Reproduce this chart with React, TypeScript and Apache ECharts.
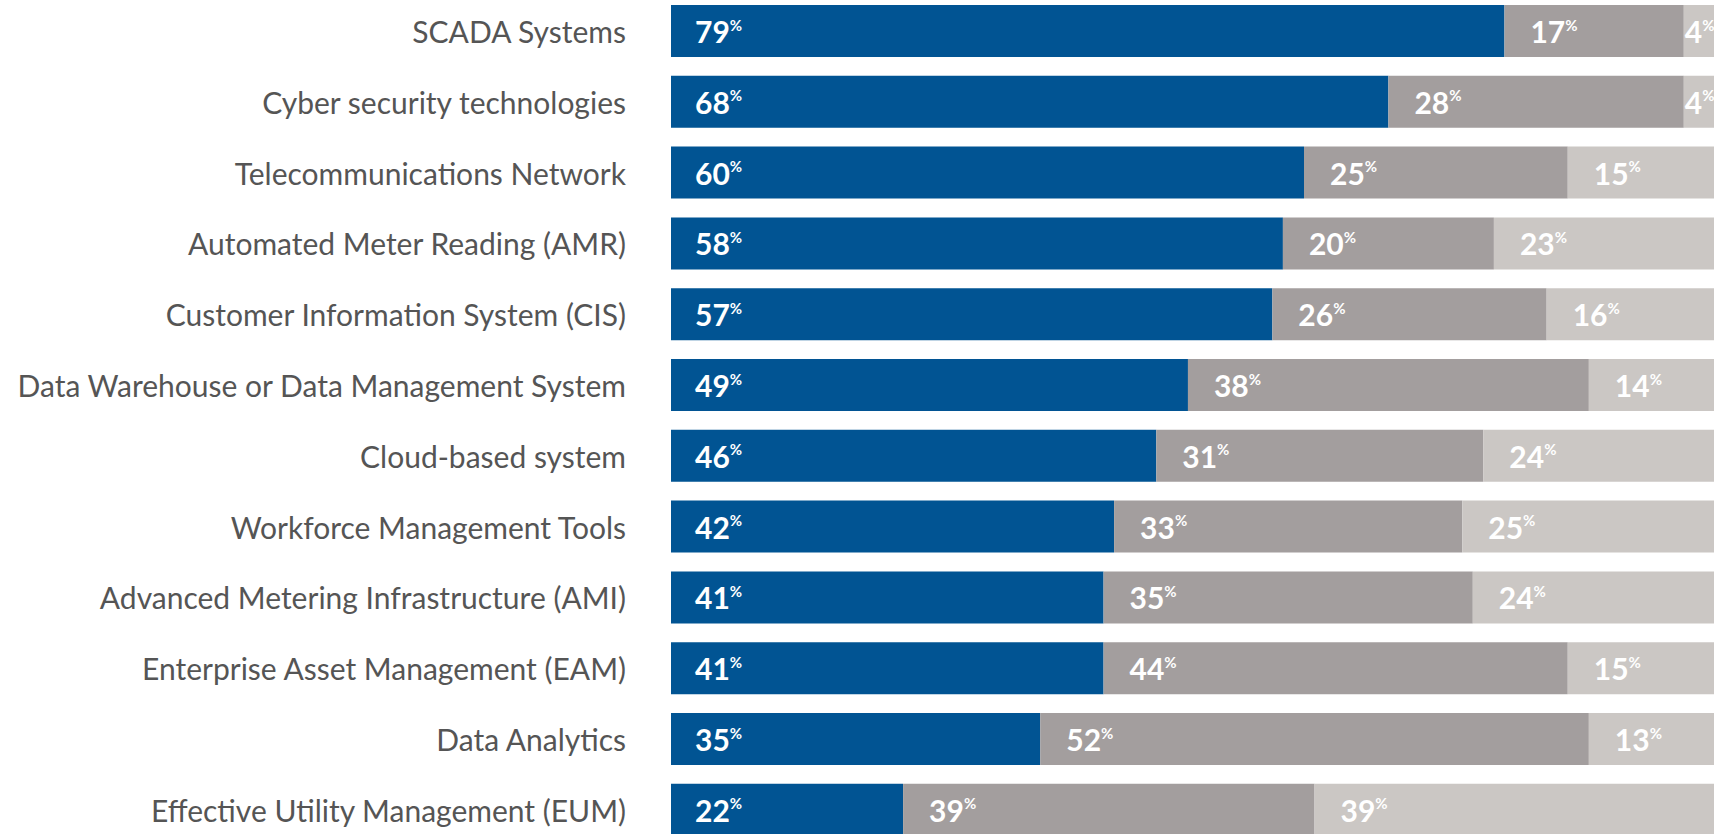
import React, { useEffect, useRef } from "react";
import * as echarts from "echarts";

const categories = [
  "SCADA Systems",
  "Cyber security technologies",
  "Telecommunications Network",
  "Automated Meter Reading (AMR)",
  "Customer Information System (CIS)",
  "Data Warehouse or Data Management System",
  "Cloud-based system",
  "Workforce Management Tools",
  "Advanced Metering Infrastructure (AMI)",
  "Enterprise Asset Management (EAM)",
  "Data Analytics",
  "Effective Utility Management (EUM)",
];

const firstValues = [79, 68, 60, 58, 57, 49, 46, 42, 41, 41, 35, 22];
const secondValues = [17, 28, 25, 20, 26, 38, 31, 33, 35, 44, 52, 39];
const thirdValues = [4, 4, 15, 23, 16, 14, 24, 25, 24, 15, 13, 39];

const COLORS = ["#015493", "#a39e9e", "#cbc7c4"];

const rich = {
  n: { fontSize: 30, fontWeight: "bold", color: "#ffffff", fontFamily: "Lato" },
  p: {
    fontSize: 15,
    fontWeight: "bold",
    color: "#ffffff",
    fontFamily: "Lato",
    verticalAlign: "top",
    padding: [1, 0, 0, 0],
  },
};

function makeSeries(values: number[], idx: number, dist: number) {
  return {
    type: "bar",
    stack: "total",
    barWidth: 52,
    data: values.map((v) => ({
      value: v,
      label: v < 6 ? { distance: 1 } : undefined,
    })),
    itemStyle: { color: COLORS[idx] },
    label: {
      show: true,
      position: "insideLeft",
      distance: dist,
      formatter: (p: any) => `{n|${p.value}}{p|%}`,
      rich,
    },
    emphasis: { disabled: true },
  };
}

export default function App() {
  const ref = useRef<HTMLDivElement>(null);
  useEffect(() => {
    document.body.style.margin = "0";
    document.body.style.overflow = "hidden";
    const chart = echarts.init(ref.current!, null, { renderer: "svg" });
    chart.setOption({
      animation: false,
      backgroundColor: "#ffffff",
      grid: { left: 671, right: 4, top: 0.6, bottom: 1.8, containLabel: false },
      xAxis: {
        type: "value",
        min: 0,
        max: 100,
        show: false,
      },
      yAxis: {
        type: "category",
        data: categories,
        inverse: true,
        axisLine: { show: false },
        axisTick: { show: false },
        axisLabel: {
          fontSize: 30,
          color: "#555555",
          fontFamily: "Lato",
          margin: 45,
        },
      },
      series: [
        makeSeries(firstValues, 0, 24),
        makeSeries(secondValues, 1, 26),
        makeSeries(thirdValues, 2, 26),
      ],
    });
    return () => chart.dispose();
  }, []);
  return (
    <div
      style={{
        position: "relative",
        width: 1714,
        height: 834,
        overflow: "hidden",
        background: "#ffffff",
      }}
    >
      <div
        ref={ref}
        style={{ position: "absolute", left: 0, top: -5, width: 1730, height: 852 }}
      />
    </div>
  );
}
